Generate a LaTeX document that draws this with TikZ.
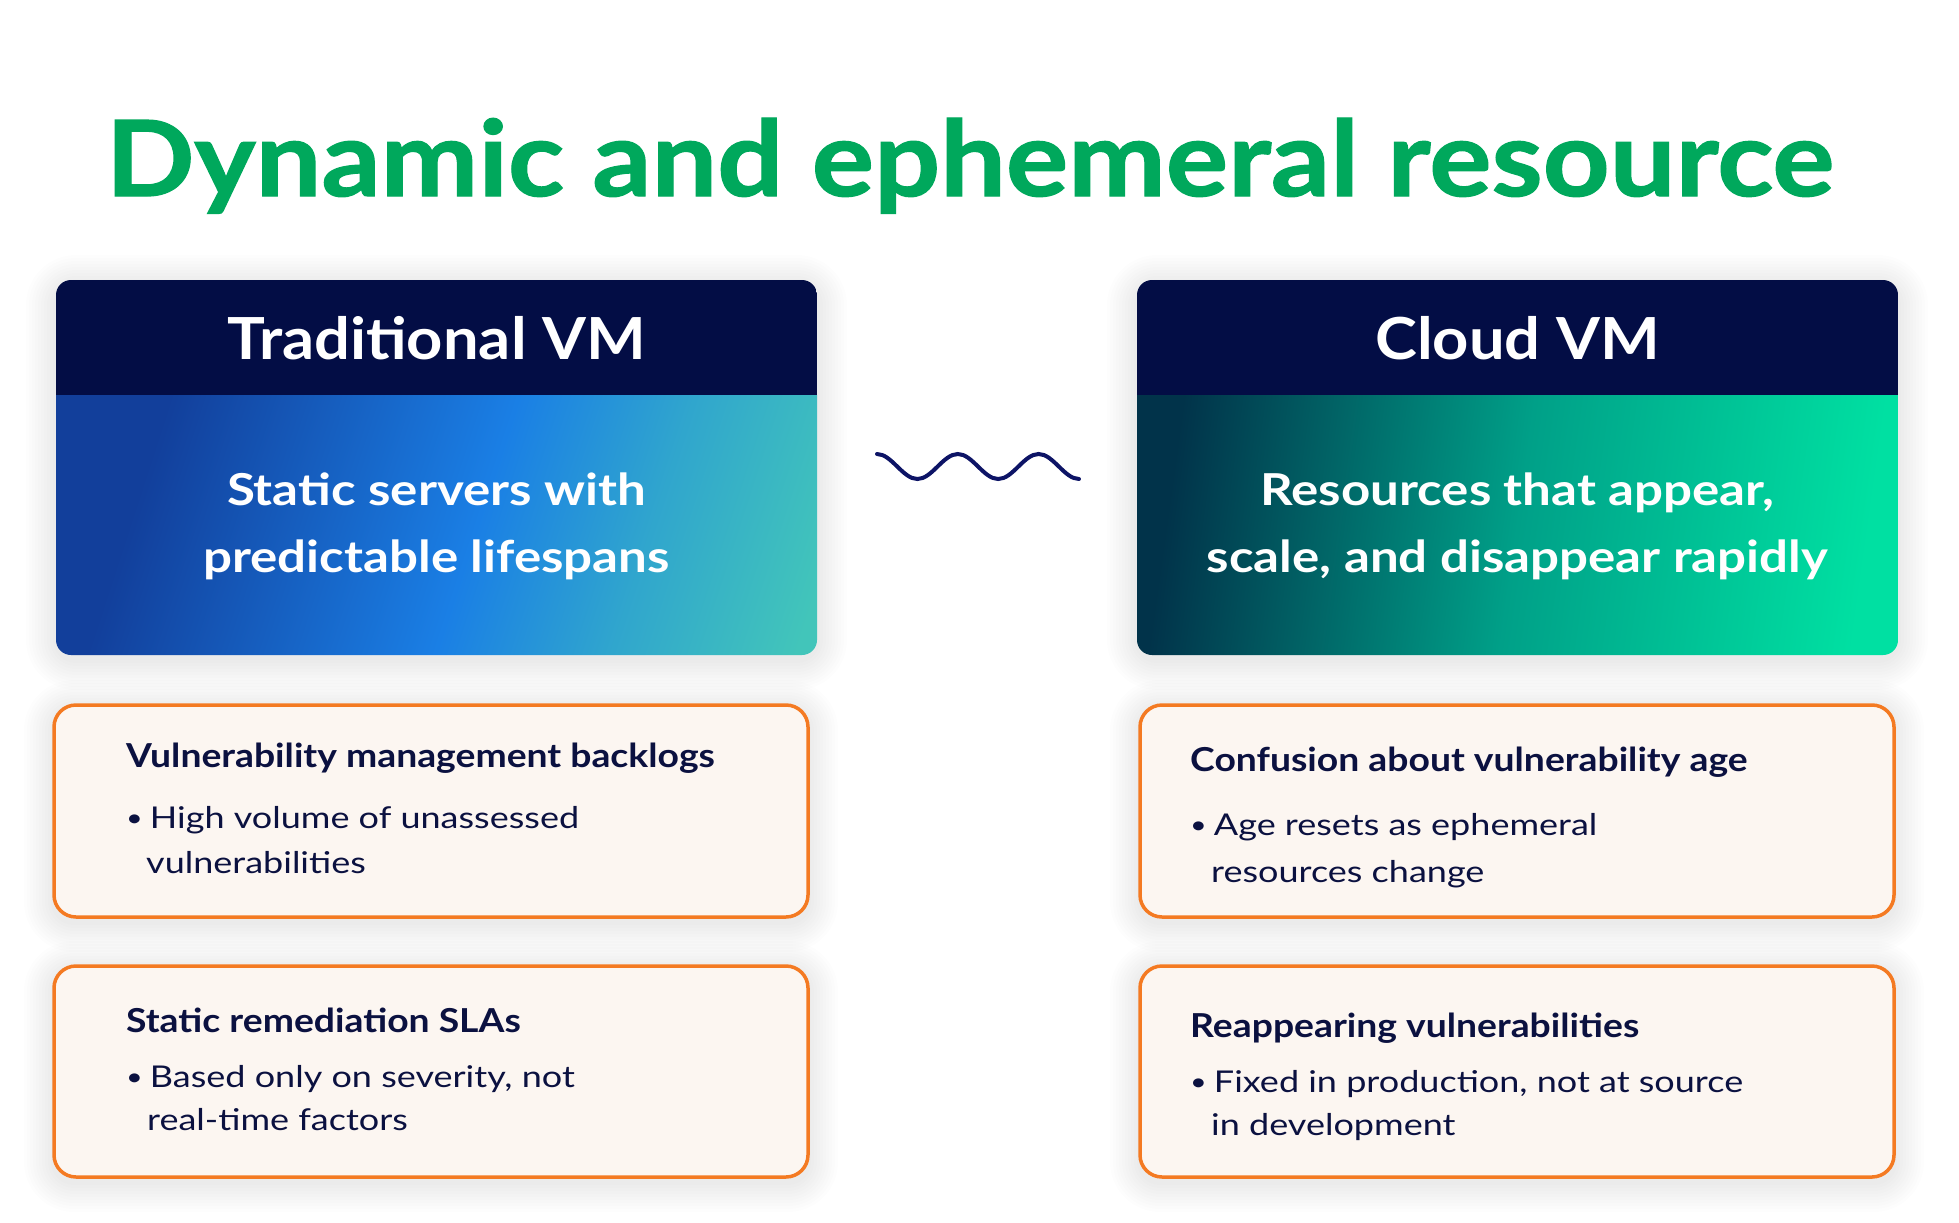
\documentclass[tikz,border=0pt]{standalone}
\usepackage{fontspec}
\setmainfont{Lato}
\newfontfamily\titlef{Lato}[FakeStretch=1.11, FakeBold=1.2]
\newfontfamily\hdrf{Lato}[FakeStretch=1.09]
\newfontfamily\bodyf{Lato}[FakeStretch=1.16]
\newfontfamily\headf{Lato}[FakeStretch=1.13]
\newfontfamily\linef{Lato}[FakeStretch=1.2]
\definecolor{titlegreen}{HTML}{00A85C}
\definecolor{hdrnavy}{HTML}{030D45}
\definecolor{txtnavy}{HTML}{0B1140}
\definecolor{orangeb}{HTML}{F47A22}
\definecolor{creamf}{HTML}{FCF6F1}
\definecolor{wavecol}{HTML}{0D1466}
\definecolor{tbA}{HTML}{123F9B}
\definecolor{tbB}{HTML}{1A7FE5}
\definecolor{tbC}{HTML}{42C5BA}
\definecolor{rbA}{HTML}{01334A}
\definecolor{rbB}{HTML}{00A088}
\definecolor{rbC}{HTML}{00E0A2}
\pgfdeclarehorizontalshading{tradshade}{100bp}{color(0bp)=(tbA); color(27bp)=(tbA); color(40bp)=(tbA!50!tbB); color(53bp)=(tbB); color(66bp)=(tbB!45!tbC); color(80bp)=(tbC); color(100bp)=(tbC)}
\pgfdeclarehorizontalshading{cloudshade}{100bp}{color(0bp)=(rbA); color(25bp)=(rbA); color(50bp)=(rbB); color(75bp)=(rbC); color(100bp)=(rbC)}
\tikzset{
  hdrtext/.style={text=white, font=\hdrf\bfseries\fontsize{58}{64}\selectfont, inner sep=0pt, anchor=base},
  bodytext/.style={text=white, font=\bodyf\bfseries\fontsize{44}{50}\selectfont, inner sep=0pt, anchor=base},
  boxhead/.style={text=txtnavy, font=\headf\bfseries\fontsize{33}{38}\selectfont, inner sep=0pt, anchor=base west},
  boxline/.style={text=txtnavy, font=\linef\fontsize{30}{36}\selectfont, inner sep=0pt, anchor=base west},
  issuebox/.style={draw=orangeb, line width=3.5pt, fill=creamf, rounded corners=22pt},
}
\newcommand{\softshadow}[4]{%
  \foreach \k in {1,...,10}{
    \fill[black, opacity=0.007, rounded corners=20+\k*3]
      (#1-\k*3, #2-\k*3+5) rectangle (#3+\k*3, #4+\k*3+5);
  }}
\newcommand{\blt}{\raisebox{2pt}{\scalebox{0.8}{•}}\hspace{7pt}}
\begin{document}
\begin{tikzpicture}[x=1pt, y=-1pt]
\fill[white] (0,0) rectangle (1959,1223);
\useasboundingbox (0,0) rectangle (1959,1223);

% title
\node[text=titlegreen, font=\titlef\bfseries\fontsize{105}{110}\selectfont, inner sep=0pt, anchor=base] (title) at (970,196) {Dynamic and ephemeral resource};

% shadows
\softshadow{56}{280}{817}{655}
\softshadow{1137}{280}{1898}{655}
\softshadow{54}{705}{808}{917}
\softshadow{54}{966}{808}{1177}
\softshadow{1140}{705}{1894}{917}
\softshadow{1140}{966}{1894}{1177}

% left card
\begin{scope}
  \clip[rounded corners=15pt] (56,280) rectangle (817,655);
  \shade[shading=tradshade, shading angle=-18] (56,395) rectangle (817,655);
  \fill[hdrnavy] (56,280) rectangle (817,395);
\end{scope}
\node[hdrtext] (tradhdr) at (436.5,359) {Traditional VM};
\node[bodytext] (trad1) at (436.5,505) {Static servers with};
\node[bodytext] (trad2) at (436.5,572) {predictable lifespans};

% right card
\begin{scope}
  \clip[rounded corners=15pt] (1137,280) rectangle (1898,655);
  \shade[shading=cloudshade, shading angle=-8] (1137,395) rectangle (1898,655);
  \fill[hdrnavy] (1137,280) rectangle (1898,395);
\end{scope}
\node[hdrtext] (cloudhdr) at (1517.5,359) {Cloud VM};
\node[bodytext] (cloud1) at (1517.5,505) {Resources that appear,};
\node[bodytext] (cloud2) at (1517.5,572) {scale, and disappear rapidly};

% wave
\draw[wavecol, line width=4pt, line cap=round]
  (877,454) cos (897.2,466.5) sin (917.4,479) cos (937.6,466.5) sin (957.8,454)
  cos (978,466.5) sin (998.2,479) cos (1018.4,466.5) sin (1038.6,454)
  cos (1058.8,466.5) sin (1079,479);

% issue boxes left
\draw[issuebox] (54,705) rectangle (808,917);
\node[boxhead] (h1) at (126,767) {Vulnerability management backlogs};
\node[boxline] (b1a) at (126,828) {\blt High volume of unassessed};
\node[boxline] (b1b) at (146,873) {vulnerabilities};

\draw[issuebox] (54,966) rectangle (808,1177);
\node[boxhead] (h2) at (126,1032) {Static remediation SLAs};
\node[boxline] (b2a) at (126,1087) {\blt Based only on severity, not};
\node[boxline] (b2b) at (147,1130) {real-time factors};

% issue boxes right
\draw[issuebox] (1140,705) rectangle (1894,917);
\node[boxhead] (h3) at (1190,771) {Confusion about vulnerability age};
\node[boxline] (b3a) at (1190,835) {\blt Age resets as ephemeral};
\node[boxline] (b3b) at (1211,882) {resources change};

\draw[issuebox] (1140,966) rectangle (1894,1177);
\node[boxhead] (h4) at (1190,1037) {Reappearing vulnerabilities};
\node[boxline] (b4a) at (1190,1092) {\blt Fixed in production, not at source};
\node[boxline] (b4b) at (1211,1135) {in development};
\end{tikzpicture}
\end{document}
